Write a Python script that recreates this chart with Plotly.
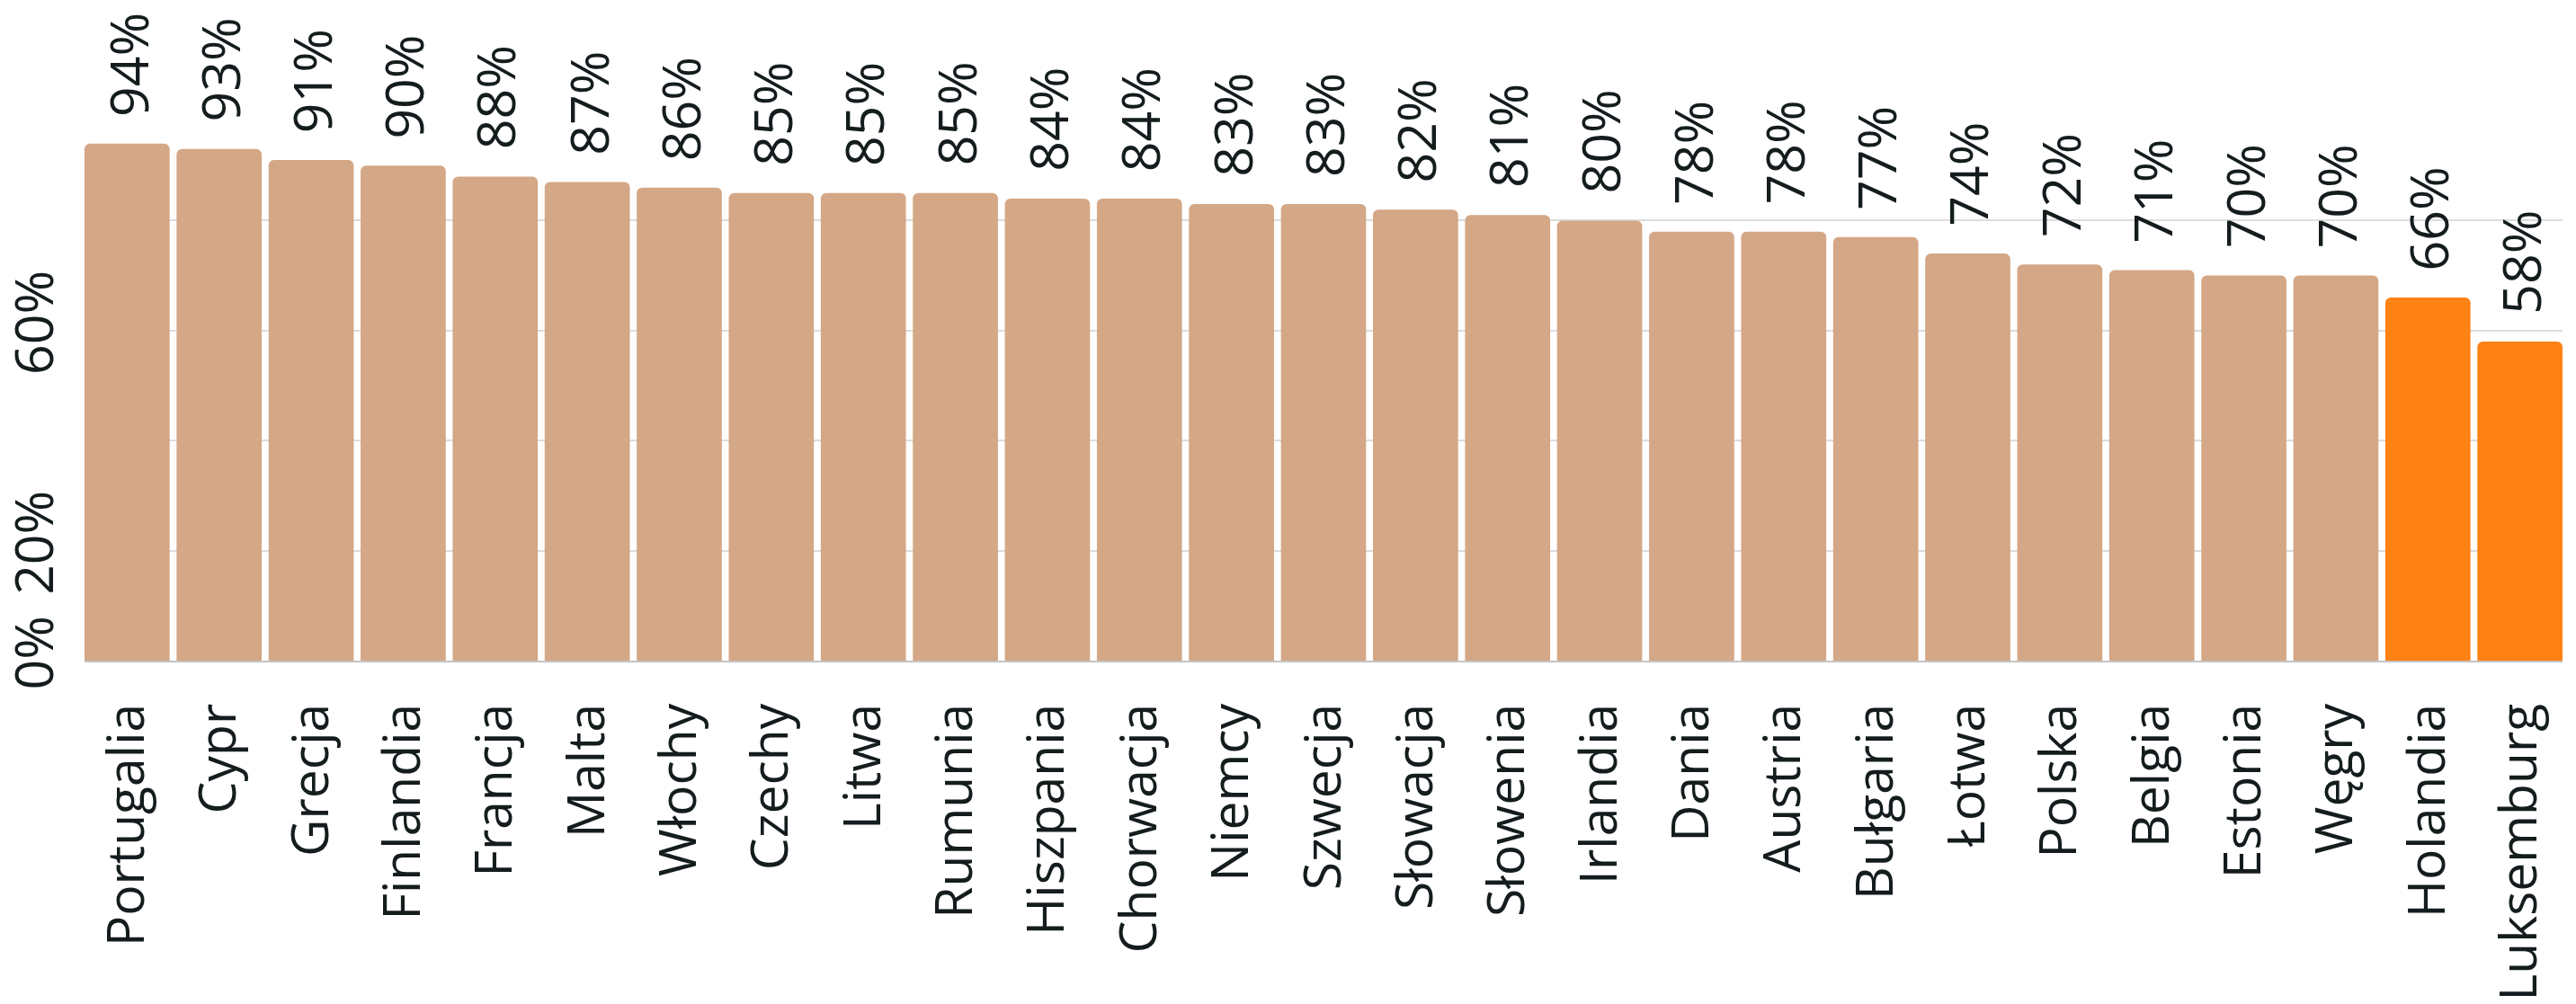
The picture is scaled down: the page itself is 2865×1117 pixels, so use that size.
import plotly.graph_objects as go

countries = ["Portugalia", "Cypr", "Grecja", "Finlandia", "Francja", "Malta", "Włochy",
             "Czechy", "Litwa", "Rumunia", "Hiszpania", "Chorwacja", "Niemcy", "Szwecja",
             "Słowacja", "Słowenia", "Irlandia", "Dania", "Austria", "Bułgaria", "Łotwa",
             "Polska", "Belgia", "Estonia", "Węgry", "Holandia", "Luksemburg"]
values = [94, 93, 91, 90, 88, 87, 86, 85, 85, 85, 84, 84, 83, 83, 82, 81, 80, 78, 78, 77,
          74, 72, 71, 70, 70, 66, 58]
highlight = ["Holandia", "Luksemburg"]

y_tickvals = [0, 20, 40, 60, 80]
y_ticktext = ["0%", "20%", "", "60%", ""]

TAN = "#D4A786"
ORANGE = "#FF8214"
TEXT = "#141c1e"
FONT = "Open Sans"
FS = 59
FS_X = 57

colors = [ORANGE if c in highlight else TAN for c in countries]

fig = go.Figure()
fig.add_trace(go.Bar(
    x=countries, y=values,
    marker=dict(color=colors, line=dict(width=0), cornerradius=6),
    hoverinfo="x+y",
))

gap = 0.075
for c, v in zip(countries, values):
    fig.add_annotation(
        x=c, y=v, text=f"{v}%", textangle=-90, showarrow=False,
        xanchor="center", yanchor="bottom", yshift=28,
        font=dict(family=FONT, size=FS, color=TEXT),
    )

fig.update_layout(
    width=2865, height=1117,
    margin=dict(l=94, r=15, t=123, b=382, autoexpand=False),
    paper_bgcolor="white", plot_bgcolor="white",
    bargap=gap, showlegend=False,
    font=dict(family=FONT, size=FS, color=TEXT),
)
fig.update_xaxes(
    type="category", automargin=False,
    range=[-0.5 + gap / 2, len(countries) - 0.5 - gap / 2],
    tickangle=-90, tickfont=dict(family=FONT, size=FS_X, color=TEXT),
    showgrid=False, showline=True, linecolor="#c4c4c4", linewidth=2,
    ticks="", ticklabelstandoff=23,
)
fig.update_yaxes(
    range=[0, 100], tickvals=y_tickvals, ticktext=y_ticktext, automargin=False,
    tickangle=-90, tickfont=dict(family=FONT, size=FS, color=TEXT),
    showgrid=True, gridcolor="#dcdcdc", gridwidth=2,
    zeroline=False, showline=False, ticks="", ticklabelstandoff=22,
)

fig.write_html(
    "out.html",
    config={"displayModeBar": False},
    post_script="document.body.style.margin='0';document.body.style.overflow='hidden';",
)
